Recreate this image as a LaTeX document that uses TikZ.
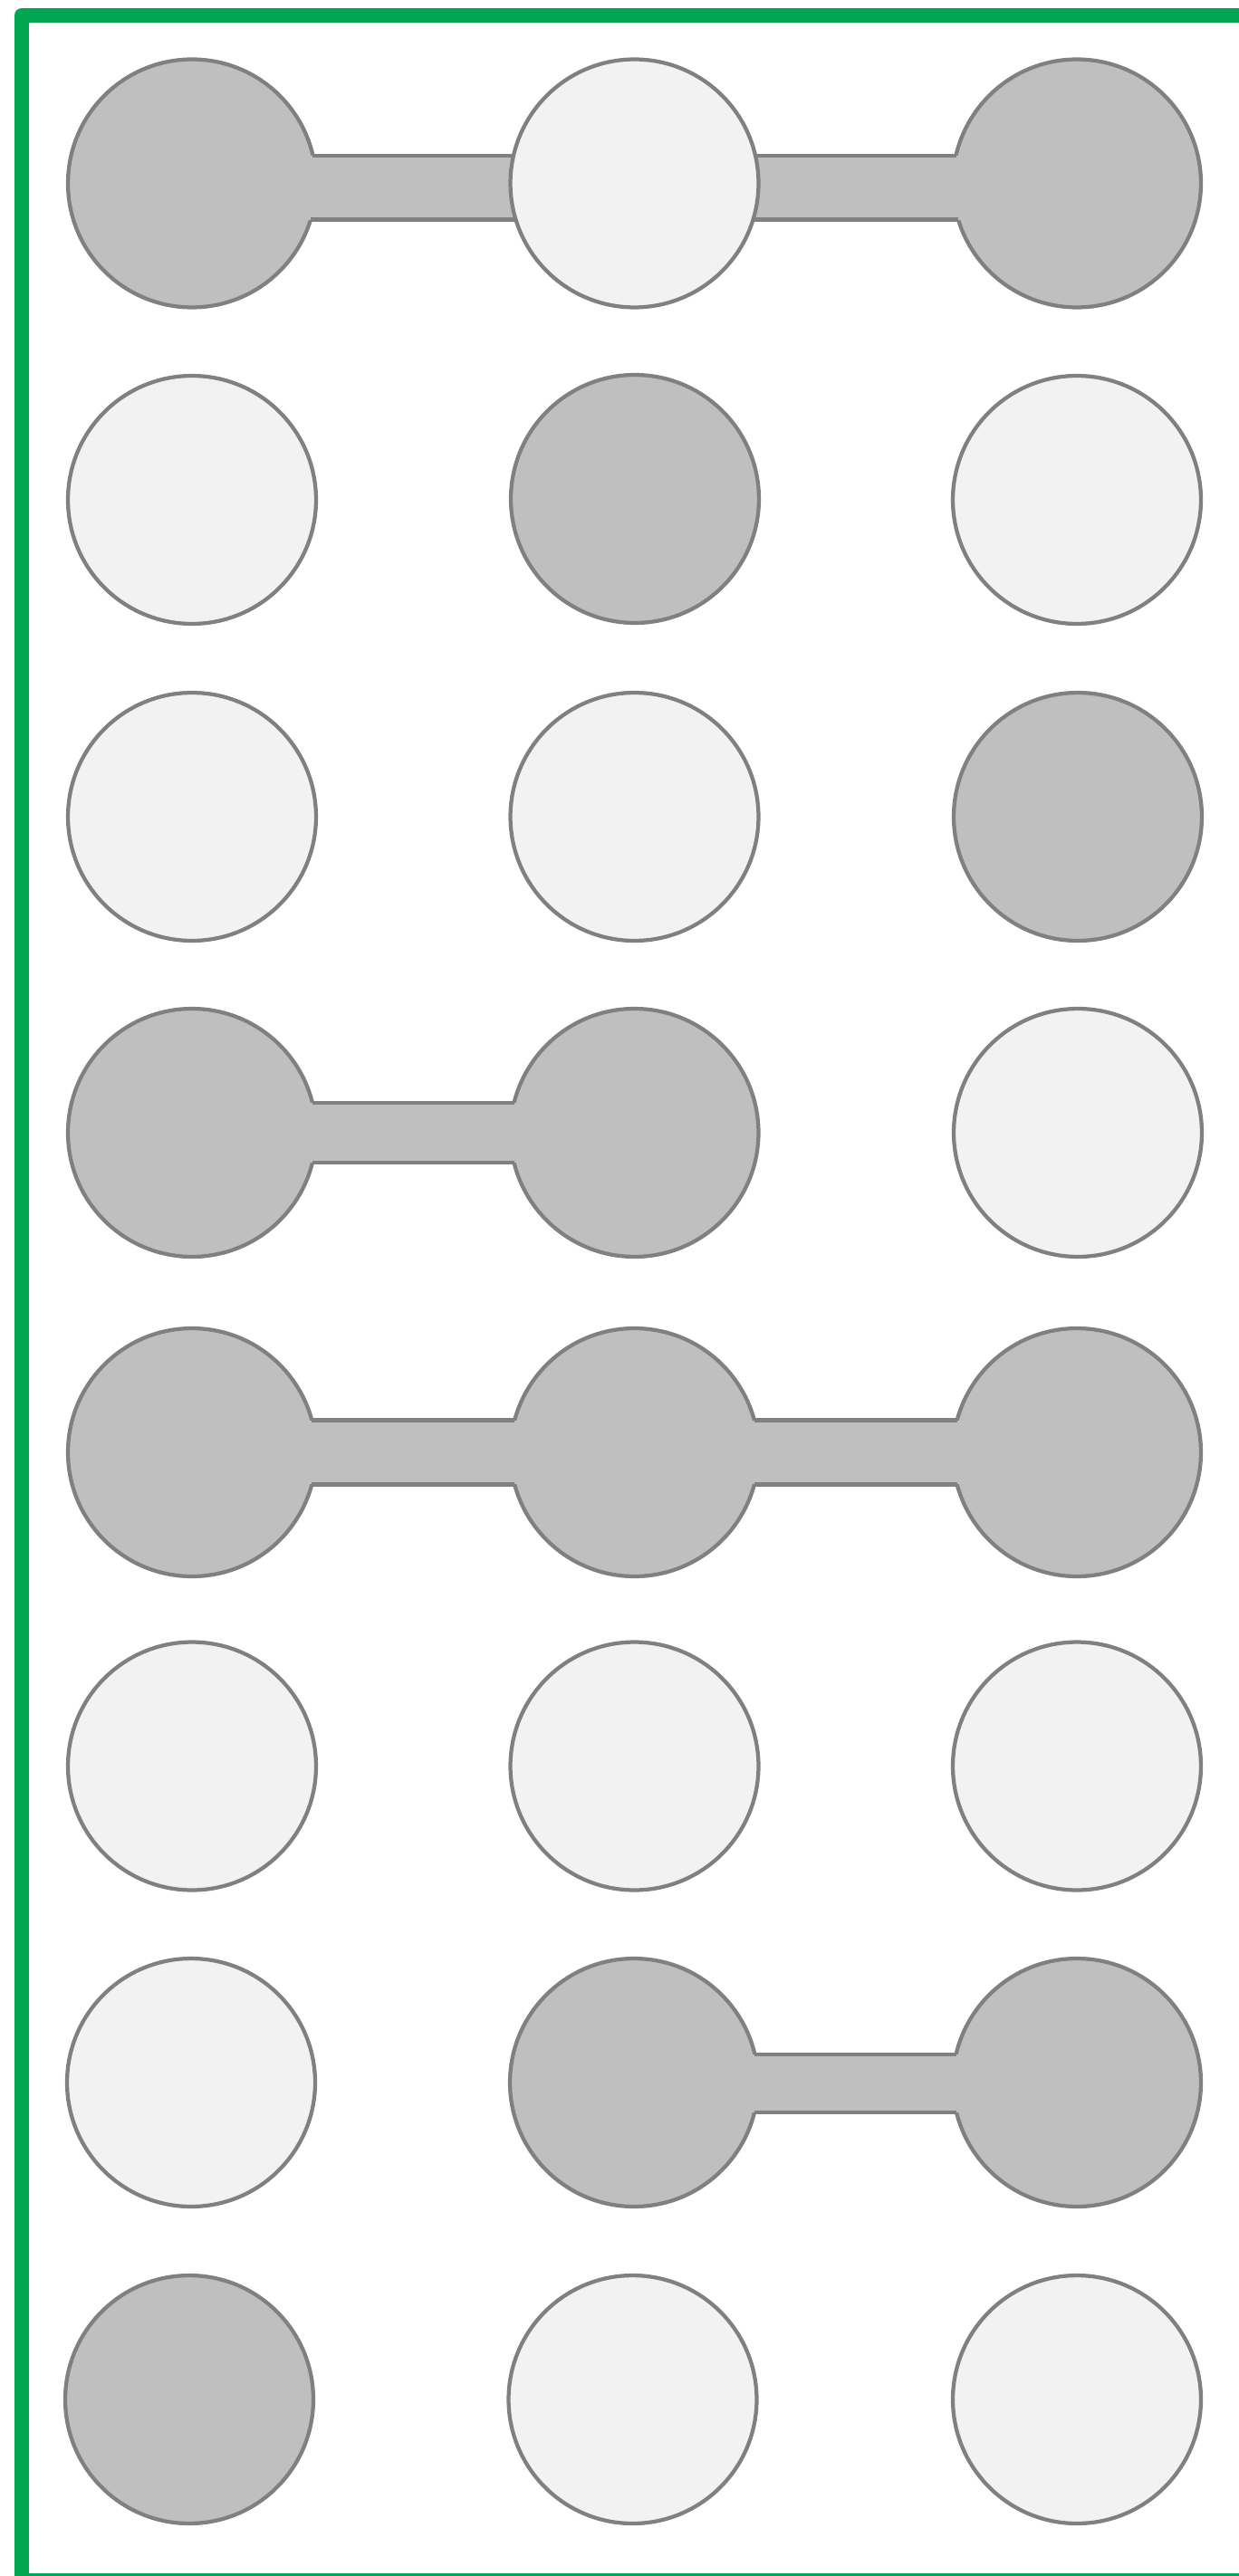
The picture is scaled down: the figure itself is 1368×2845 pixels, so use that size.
\documentclass[tikz,border=0pt]{standalone}
\definecolor{darkfill}{RGB}{191,191,191}
\definecolor{lightfill}{RGB}{242,242,242}
\definecolor{edgegray}{RGB}{128,128,128}
\definecolor{framegreen}{RGB}{0,166,81}
\begin{document}
\begin{tikzpicture}[x=0.02cm,y=-0.02cm,
  dot/.style={circle, draw=edgegray, line width=0.085cm, minimum size=5.48cm, inner sep=0pt, outer sep=0pt},
  darkdot/.style={dot, fill=darkfill},
  lightdot/.style={dot, fill=lightfill},
  barfill/.style={fill=darkfill},
  baredge/.style={draw=edgegray, line width=0.085cm},
  frameline/.style={draw=framegreen, line width=0.32cm, line join=round}]
\useasboundingbox (0,0) rectangle (1368,2845);
\clip (0,0) rectangle (1368,2845);
\fill[white] (0,0) rectangle (1368,2845);
\draw[frameline] (24,17) rectangle (1390,2850);
% row 1
\node[darkdot] (a11) at (212,202.5) {};
\node[darkdot] (a13) at (1189,202.5) {};
\path[barfill] (a11.center |- a11.13) rectangle (a13.center |- a13.343);
\draw[baredge] (a11.13) -- (a13.167);
\draw[baredge] (a11.343) -- (a13.197);
\node[lightdot] (a12) at (700.5,202.5) {};
% row 2
\node[lightdot] (a21) at (212,552) {};
\node[darkdot] (a22) at (701,551) {};
\node[lightdot] (a23) at (1189,552) {};
% row 3
\node[lightdot] (a31) at (212,902) {};
\node[lightdot] (a32) at (700.5,902) {};
\node[darkdot] (a33) at (1190,902) {};
% row 4
\node[darkdot] (a41) at (212,1251) {};
\node[darkdot] (a42) at (700.5,1251) {};
\node[lightdot] (a43) at (1190,1251) {};
\path[barfill] (a41.center |- a41.14) rectangle (a42.center |- a42.346);
\draw[baredge] (a41.14) -- (a42.166);
\draw[baredge] (a41.346) -- (a42.194);
% row 5
\node[darkdot] (a51) at (212,1604) {};
\node[darkdot] (a52) at (700.5,1604) {};
\node[darkdot] (a53) at (1189,1604) {};
\path[barfill] (a51.center |- a51.15) rectangle (a53.center |- a53.345);
\draw[baredge] (a51.15) -- (a52.165);
\draw[baredge] (a51.345) -- (a52.195);
\draw[baredge] (a52.15) -- (a53.165);
\draw[baredge] (a52.345) -- (a53.195);
% row 6
\node[lightdot] (a61) at (212,1950.5) {};
\node[lightdot] (a62) at (700.5,1950.5) {};
\node[lightdot] (a63) at (1189,1950.5) {};
% row 7
\node[lightdot] (a71) at (211,2300) {};
\node[darkdot] (a72) at (700,2300) {};
\node[darkdot] (a73) at (1189,2300) {};
\path[barfill] (a72.center |- a72.13) rectangle (a73.center |- a73.346);
\draw[baredge] (a72.13) -- (a73.167);
\draw[baredge] (a72.346) -- (a73.194);
% row 8
\node[darkdot] (a81) at (209,2650) {};
\node[lightdot] (a82) at (698.5,2650) {};
\node[lightdot] (a83) at (1189,2650) {};
\end{tikzpicture}
\end{document}
